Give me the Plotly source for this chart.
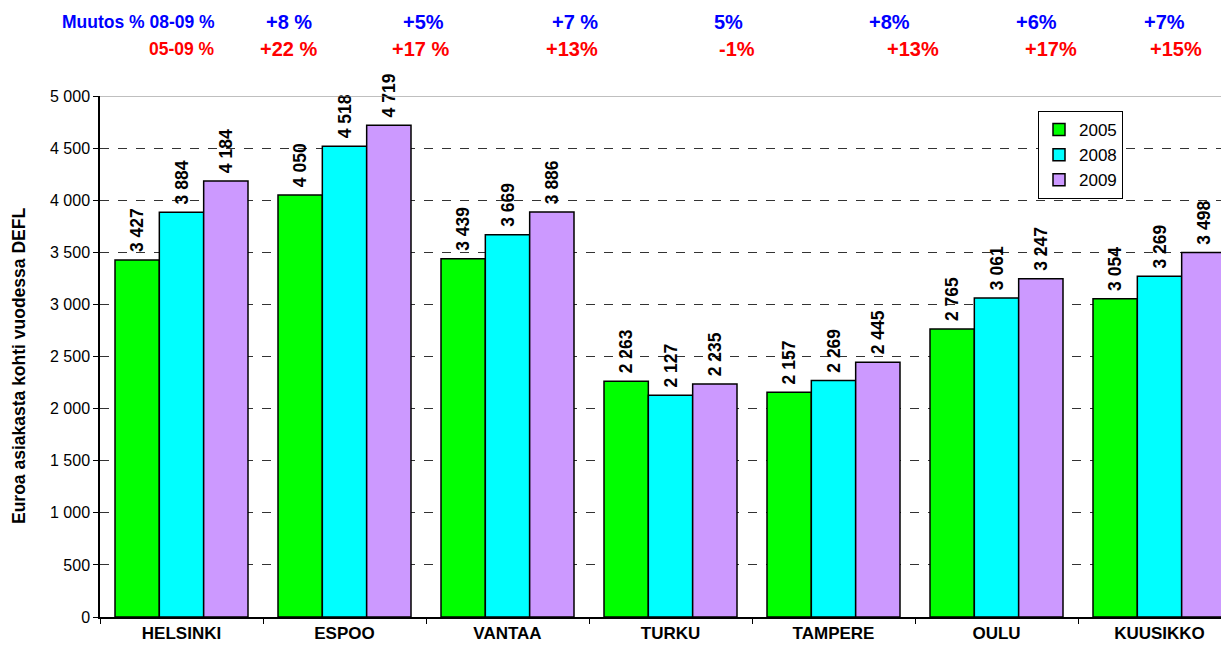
import plotly.graph_objects as go

# data
cities = ["HELSINKI", "ESPOO", "VANTAA", "TURKU", "TAMPERE", "OULU", "KUUSIKKO"]
values_2005 = [3427, 4050, 3439, 2263, 2157, 2765, 3054]
values_2008 = [3884, 4518, 3669, 2127, 2269, 3061, 3269]
values_2009 = [4184, 4719, 3886, 2235, 2445, 3247, 3498]
change_08_09 = ["+8 %", "+5%", "+7 %", "5%", "+8%", "+6%", "+7%"]
change_05_09 = ["+22 %", "+17 %", "+13%", "-1%", "+13%", "+17%", "+15%"]

FONT = "Arial, Liberation Sans, sans-serif"
# the page puts the figure 8px in from the top-left corner
OFF = 8
W, H = 1229, 650
PL, PT, PB = 100, 96, 617  # plot area in screen pixels


def px_x(px):
    return (px - PL) / (W - PL)


def px_y(py):
    return (PB - py) / (PB - PT)


fig = go.Figure()
for name, vals, color in [("2005", values_2005, "#00FF00"),
                          ("2008", values_2008, "#00FFFF"),
                          ("2009", values_2009, "#CC99FF")]:
    fig.add_trace(go.Bar(
        x=cities, y=vals, name=name,
        marker=dict(color=color, line=dict(color="black", width=1.5)),
        texttemplate="\u00a0%{y:,}", textposition="outside", textangle=-90,
        constraintext="none",
        textfont=dict(family=FONT, size=17.5, color="black", weight="bold"),
        cliponaxis=False,
    ))

# change percentages above the chart
blue_pos = [289, 423, 575, 728, 889, 1036, 1164]
red_pos = [288, 420, 572, 737, 913, 1051, 1176]
annotations = [
    dict(text="<b>Muutos % 08-09 %</b>", x=px_x(217), y=px_y(22), xanchor="right",
         font=dict(family=FONT, size=17.5, color="blue")),
    dict(text="<b>05-09 %</b>", x=px_x(217), y=px_y(49), xanchor="right",
         font=dict(family=FONT, size=17.5, color="red")),
    dict(text="<b>Euroa asiakasta kohti vuodessa DEFL</b>", x=px_x(19), y=px_y(366),
         textangle=-90, font=dict(family=FONT, size=17.5, color="black")),
]
for txt, p in zip(change_08_09, blue_pos):
    annotations.append(dict(text="<b>%s</b>" % txt, x=px_x(p), y=px_y(22),
                            font=dict(family=FONT, size=20, color="blue")))
for txt, p in zip(change_05_09, red_pos):
    annotations.append(dict(text="<b>%s</b>" % txt, x=px_x(p), y=px_y(49),
                            font=dict(family=FONT, size=20, color="red")))
for a in annotations:
    a.update(xref="paper", yref="paper", showarrow=False, yanchor="middle")
    a.setdefault("xanchor", "center")

fig.update_layout(
    width=W - OFF, height=H - OFF,
    margin=dict(l=PL - OFF, r=0, t=PT - OFF, b=H - PB, pad=0),
    plot_bgcolor="white", paper_bgcolor="white",
    separators=", ",
    barmode="group", bargap=0.184, bargroupgap=0,
    font=dict(family=FONT, size=16, color="black"),
    annotations=annotations,
    showlegend=True,
    legend=dict(x=px_x(1038), y=px_y(111), xanchor="left", yanchor="top",
                bordercolor="black", borderwidth=1, bgcolor="white",
                font=dict(family=FONT, size=17), tracegroupgap=2),
    shapes=[dict(type="line", xref="paper", yref="y", x0=0, x1=1, y0=5000, y1=5000,
                 line=dict(color="#808080", width=1))],
)
fig.update_xaxes(range=[-0.5, -0.5 + (W - PL) / 163.0], showline=True, linecolor="black",
                 linewidth=1.5, ticks="outside", tickson="boundaries", ticklen=5,
                 tickcolor="black", showgrid=False,
                 tickfont=dict(family=FONT, size=17, weight="bold"))
fig.update_yaxes(range=[0, 5000], dtick=500, tickformat=",", showline=True,
                 linecolor="black", linewidth=1.5, ticks="outside", ticklen=5,
                 tickcolor="black", showgrid=True, gridcolor="#333333",
                 griddash="dash", gridwidth=1, zeroline=False,
                 tickfont=dict(family=FONT, size=16))

fig.write_html("out.html")
